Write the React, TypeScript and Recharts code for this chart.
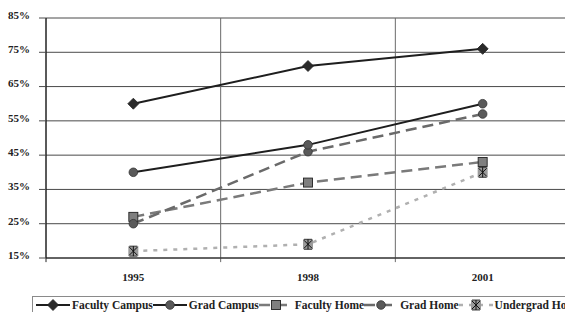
import React from "react";
import {
  LineChart,
  Line,
  XAxis,
  YAxis,
  CartesianGrid,
  ReferenceLine,
} from "recharts";

const years = ["1995", "1998", "2001"];
const facultyCampus = [60, 71, 76];
const gradCampus = [40, 48, 60];
const facultyHome = [27, 37, 43];
const gradHome = [25, 46, 57];
const undergradHome = [17, 19, 40];
const yTicks = [15, 25, 35, 45, 55, 65, 75, 85];

const FONT = '"Liberation Serif", "Times New Roman", serif';

type Shape = "diamond" | "circle" | "square" | "star";

interface SeriesDef {
  key: string;
  name: string;
  values: number[];
  stroke: string;
  width: number;
  dash?: string;
  shape: Shape;
  fill: string;
}

const series: SeriesDef[] = [
  { key: "undergradHome", name: "Undergrad Home", values: undergradHome, stroke: "#b0b0b0", width: 2.5, dash: "4 6", shape: "star", fill: "#9a9a9a" },
  { key: "facultyHome", name: "Faculty Home", values: facultyHome, stroke: "#7a7a7a", width: 2.5, dash: "11 6", shape: "square", fill: "#7f7f7f" },
  { key: "gradHome", name: "Grad Home", values: gradHome, stroke: "#6a6a6a", width: 2.5, dash: "11 6", shape: "circle", fill: "#5a5a5a" },
  { key: "gradCampus", name: "Grad Campus", values: gradCampus, stroke: "#1e1e1e", width: 2, shape: "circle", fill: "#5a5a5a" },
  { key: "facultyCampus", name: "Faculty Campus", values: facultyCampus, stroke: "#1e1e1e", width: 2, shape: "diamond", fill: "#2a2a2a" },
];

const legendOrder = ["facultyCampus", "gradCampus", "facultyHome", "gradHome", "undergradHome"];

const data = years.map((year, i) => {
  const row: Record<string, number | string> = { x: i + 0.5, year };
  series.forEach((s) => {
    row[s.key] = s.values[i];
  });
  return row;
});

function Marker({ cx, cy, shape, fill }: { cx: number; cy: number; shape: Shape; fill: string }) {
  if (cx == null || cy == null) return null;
  if (shape === "diamond") {
    const r = 5.5;
    return (
      <polygon
        points={`${cx},${cy - r} ${cx + r},${cy} ${cx},${cy + r} ${cx - r},${cy}`}
        fill={fill}
        stroke="#222"
        strokeWidth={0.8}
      />
    );
  }
  if (shape === "circle") {
    return <circle cx={cx} cy={cy} r={4.3} fill={fill} stroke="#333" strokeWidth={0.8} />;
  }
  if (shape === "square") {
    return (
      <rect x={cx - 4.5} y={cy - 4.5} width={9} height={9} fill={fill} stroke="#222" strokeWidth={0.9} />
    );
  }
  const r = 4;
  return (
    <g>
      <rect x={cx - 5} y={cy - 5} width={10} height={10} fill={fill} />
      <line x1={cx - r} y1={cy - r} x2={cx + r} y2={cy + r} stroke="#111" strokeWidth={1} />
      <line x1={cx + r} y1={cy - r} x2={cx - r} y2={cy + r} stroke="#111" strokeWidth={1} />
      <line x1={cx} y1={cy - r - 1} x2={cx} y2={cy + r + 1} stroke="#111" strokeWidth={1} />
      <line x1={cx - r} y1={cy - r - 1} x2={cx + r} y2={cy - r - 1} stroke="#111" strokeWidth={0.8} />
      <line x1={cx - r} y1={cy + r + 1} x2={cx + r} y2={cy + r + 1} stroke="#111" strokeWidth={0.8} />
    </g>
  );
}

function LegendBox() {
  return (
    <div
      style={{
        position: "absolute",
        left: 32,
        top: 296,
        width: 620,
        height: 18,
        border: "1px solid #8a8a8a",
        boxSizing: "border-box",
        display: "flex",
        alignItems: "center",
        paddingLeft: 3,
        fontFamily: FONT,
        fontWeight: "bold",
        fontSize: 11.5,
        color: "#222",
        whiteSpace: "nowrap",
      }}
    >
      {legendOrder.map((k) => {
        const s = series.find((d) => d.key === k)!;
        return (
          <div key={k} style={{ display: "flex", alignItems: "center" }}>
            <svg width={34} height={12} style={{ marginRight: 2 }}>
              <line x1={0} y1={6} x2={34} y2={6} stroke={s.stroke} strokeWidth={s.width} strokeDasharray={s.dash} />
              <Marker cx={17} cy={6} shape={s.shape} fill={s.fill} />
            </svg>
            <span>{s.name}</span>
          </div>
        );
      })}
    </div>
  );
}

export default function App() {
  return (
    <div style={{ position: "absolute", left: 0, top: 0, width: 565, height: 312, background: "#fff", overflow: "hidden" }}>
      <LineChart
        width={565}
        height={312}
        data={data}
        margin={{ top: 18, right: -5, bottom: 24, left: 0 }}
      >
        <CartesianGrid vertical={false} stroke="#4a4a4a" strokeWidth={1} />
        <XAxis
          type="number"
          dataKey="x"
          domain={[0, 3]}
          ticks={[0.5, 1.5, 2.5]}
          tickFormatter={(v: number) => years[Math.floor(v)]}
          axisLine={{ stroke: "#222" }}
          tickLine={false}
          tickSize={0}
          tickMargin={15}
          height={30}
          tick={{ fontFamily: FONT, fontWeight: "bold", fontSize: 11, fill: "#222" }}
        />
        <YAxis
          domain={[15, 85]}
          ticks={yTicks}
          width={46}
          tickFormatter={(v: number) => `${v}%`}
          axisLine={{ stroke: "#222" }}
          tickLine={{ stroke: "#4a4a4a" }}
          tickSize={7}
          tickMargin={9}
          tick={{ fontFamily: FONT, fontWeight: "bold", fontSize: 11, fill: "#222", dy: -3 }}
        />
        {[0, 1, 2].map((b) => (
          <ReferenceLine
            key={b}
            segment={[
              { x: b, y: 13.8 },
              { x: b, y: 85 },
            ]}
            stroke={b === 0 ? "#222" : "#6a6a6a"}
            strokeWidth={1}
            ifOverflow="visible"
          />
        ))}
        {series.map((s) => (
          <Line
            key={s.key}
            type="linear"
            dataKey={s.key}
            name={s.name}
            stroke={s.stroke}
            strokeWidth={s.width}
            strokeDasharray={s.dash}
            isAnimationActive={false}
            dot={(p: any) => <Marker key={`${s.key}-${p.index}`} cx={p.cx} cy={p.cy} shape={s.shape} fill={s.fill} />}
            activeDot={false}
          />
        ))}
      </LineChart>
      <LegendBox />
    </div>
  );
}
